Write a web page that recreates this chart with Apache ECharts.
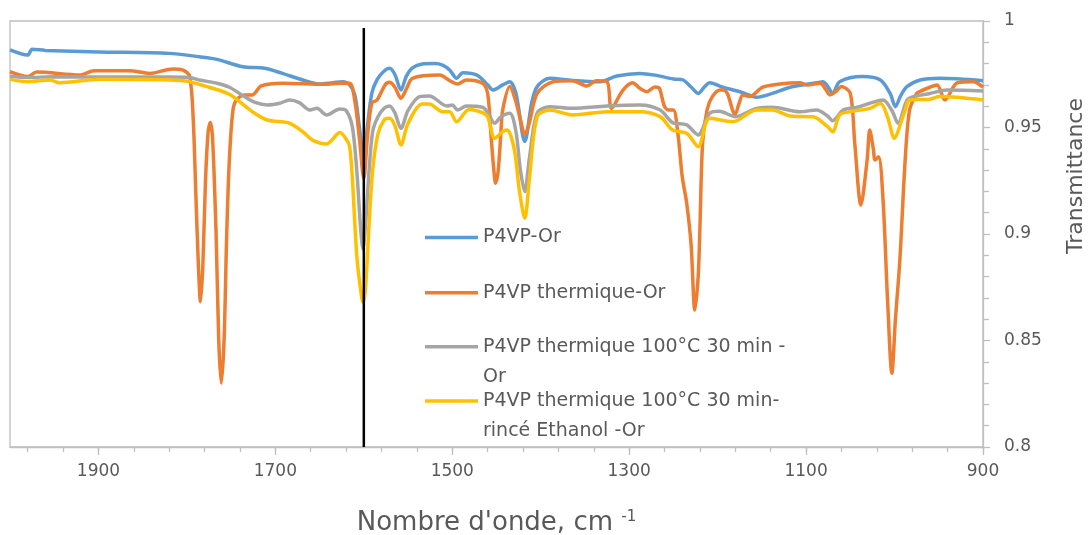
<!DOCTYPE html>
<html>
<head>
<meta charset="utf-8">
<script src="https://cdn.jsdelivr.net/npm/echarts@6/dist/echarts.min.js"></script>
<style>html,body{margin:0;padding:0;background:#fff}#c{width:1089px;height:535px}</style>
</head>
<body>
<div id="c"></div>
<script>
const seriesNames = ['P4VP-Or', 'P4VP thermique-Or', 'P4VP thermique 100°C 30 min -Or', 'P4VP thermique 100°C 30 min-rincé Ethanol -Or'];
const legendTexts = ['P4VP-Or', 'P4VP thermique-Or', 'P4VP thermique 100°C 30 min -\nOr', 'P4VP thermique 100°C 30 min-\nrincé Ethanol -Or'];
const xLabelValues = [900, 1100, 1300, 1500, 1700, 1900];
const xMinorTickValues = [900,940,980,1020,1060,1100,1140,1180,1220,1260,1300,1340,1380,1420,1460,1500,1540,1580,1620,1660,1700,1740,1780,1820,1860,1900,1940,1980];
const markerLine = [[1600, 0.8], [1600, 0.9967]];

const blueData = [[2000,0.9864],[1980,0.984],[1975,0.9867],[1960,0.9862],[1900,0.9855],[1820,0.9848],[1786,0.9832],[1766,0.982],[1737,0.9785],[1712,0.9778],[1692,0.9754],[1669,0.9723],[1650,0.9704],[1635,0.971],[1624,0.9715],[1616,0.970],[1610,0.965],[1605,0.950],[1600,0.935],[1596,0.950],[1591,0.966],[1585,0.9725],[1577,0.9765],[1571,0.9778],[1565,0.975],[1558,0.9676],[1552,0.974],[1545,0.978],[1534,0.9798],[1520,0.9800],[1511,0.9793],[1503,0.977],[1495,0.9731],[1488,0.9757],[1472,0.9746],[1460,0.970],[1454,0.9676],[1443,0.970],[1435,0.9715],[1428,0.966],[1418,0.9434],[1410,0.962],[1404,0.9692],[1390,0.9731],[1364,0.9721],[1333,0.9715],[1314,0.9742],[1288,0.9754],[1271,0.9746],[1250,0.9728],[1239,0.9723],[1230,0.969],[1222,0.966],[1215,0.969],[1209,0.971],[1194,0.9689],[1175,0.9668],[1156,0.9642],[1138,0.966],[1118,0.9689],[1088,0.971],[1081,0.9715],[1075,0.969],[1070,0.966],[1062,0.9715],[1036,0.9739],[1016,0.9723],[1005,0.966],[999,0.9598],[993,0.965],[986,0.9692],[971,0.9723],[949,0.9731],[900,0.972]];

const orangeData = [[2000,0.9762],[1980,0.9739],[1970,0.976],[1921,0.9746],[1905,0.9767],[1865,0.9767],[1842,0.9754],[1816,0.9775],[1805,0.977],[1797,0.974],[1793,0.955],[1790,0.92],[1787,0.885],[1784.6,0.8682],[1782,0.885],[1779,0.925],[1776,0.948],[1773.6,0.9523],[1771,0.945],[1767,0.90],[1764,0.85],[1761.2,0.8299],[1758,0.85],[1755,0.90],[1752,0.935],[1748,0.958],[1744,0.9629],[1735,0.9653],[1726,0.9653],[1716,0.9695],[1692,0.9708],[1644,0.9703],[1627,0.9708],[1616,0.9708],[1610,0.962],[1605,0.945],[1600,0.926],[1596,0.945],[1591,0.9615],[1585,0.9629],[1576,0.970],[1571,0.9712],[1565,0.969],[1558,0.9637],[1552,0.968],[1545,0.9731],[1514,0.9746],[1503,0.972],[1494,0.9704],[1484,0.9723],[1466,0.9708],[1460,0.966],[1456,0.945],[1453,0.93],[1451,0.9238],[1448,0.93],[1445,0.948],[1443,0.9582],[1435,0.9692],[1428,0.962],[1422,0.952],[1418,0.9465],[1413,0.952],[1404,0.966],[1386,0.9715],[1364,0.972],[1348,0.9695],[1337,0.972],[1325,0.9715],[1320,0.959],[1307,0.9676],[1296,0.971],[1288,0.9684],[1280,0.9668],[1271,0.969],[1266,0.9685],[1260,0.9598],[1255,0.9582],[1250,0.9582],[1245,0.9474],[1240,0.9269],[1235,0.9145],[1230,0.895],[1225.8,0.8643],[1222,0.88],[1220,0.9034],[1217,0.9427],[1212,0.9582],[1206,0.9645],[1197,0.9676],[1194,0.9676],[1189,0.966],[1183,0.958],[1180.5,0.9559],[1176,0.961],[1171.5,0.9653],[1164,0.9646],[1149,0.9689],[1130,0.9704],[1107,0.971],[1099,0.9699],[1084,0.9708],[1078,0.968],[1073,0.9653],[1066,0.967],[1060,0.9692],[1050,0.966],[1045,0.9427],[1038,0.9136],[1031,0.9347],[1028,0.9488],[1024,0.940],[1022,0.9347],[1018,0.9363],[1013,0.916],[1008,0.87],[1003,0.8346],[999,0.86],[994,0.8878],[988,0.9347],[983,0.9582],[975,0.966],[971,0.967],[960,0.9689],[952,0.970],[943,0.9629],[929,0.971],[911,0.9715],[900,0.9689]];

const grayData = [[2000,0.9742],[1980,0.9735],[1950,0.9738],[1900,0.9737],[1820,0.9737],[1797,0.9735],[1786,0.9723],[1766,0.9708],[1752,0.9689],[1735,0.9645],[1723,0.9618],[1709,0.9606],[1695,0.9614],[1684,0.9629],[1673,0.9617],[1661,0.9582],[1653,0.959],[1642,0.9559],[1627,0.9587],[1620,0.958],[1613,0.9504],[1608,0.93],[1604,0.905],[1601,0.893],[1598,0.905],[1594,0.93],[1590,0.948],[1584,0.955],[1577,0.959],[1571,0.9601],[1565,0.957],[1558,0.9496],[1550,0.958],[1537,0.9645],[1526,0.9648],[1506,0.9601],[1500,0.9606],[1494,0.9582],[1484,0.9601],[1466,0.9595],[1460,0.957],[1452,0.952],[1445,0.955],[1435,0.9567],[1428,0.948],[1423,0.93],[1418,0.9199],[1413,0.935],[1404,0.9567],[1390,0.9598],[1364,0.959],[1325,0.9601],[1288,0.9606],[1265,0.9582],[1251,0.9523],[1235,0.9512],[1222,0.9465],[1209,0.9567],[1198,0.9576],[1180,0.9551],[1156,0.959],[1138,0.9595],[1107,0.9574],[1088,0.9582],[1076,0.9555],[1070,0.9532],[1058,0.9582],[1042,0.9595],[1028,0.9614],[1013,0.9629],[1003,0.958],[996,0.952],[986,0.9629],[979,0.9645],[960,0.966],[941,0.9676],[900,0.9671]];

const yellowData = [[2000,0.9726],[1980,0.9715],[1955,0.9723],[1944,0.971],[1899,0.9726],[1820,0.9723],[1797,0.9715],[1775,0.9689],[1752,0.9656],[1726,0.9574],[1709,0.9535],[1684,0.952],[1669,0.948],[1658,0.9441],[1642,0.9423],[1627,0.9476],[1620,0.9446],[1616,0.941],[1613,0.9263],[1608,0.89],[1604,0.875],[1601,0.868],[1598,0.875],[1594,0.905],[1590,0.93],[1584,0.947],[1577,0.9535],[1571,0.9543],[1565,0.951],[1558,0.9418],[1550,0.952],[1534,0.961],[1526,0.961],[1511,0.9574],[1503,0.9574],[1495,0.9527],[1481,0.9585],[1466,0.957],[1460,0.955],[1452,0.9449],[1443,0.948],[1438,0.9488],[1430,0.94],[1424,0.92],[1418,0.9074],[1413,0.925],[1404,0.9551],[1390,0.9582],[1364,0.9559],[1325,0.9574],[1288,0.9574],[1265,0.9551],[1251,0.9488],[1235,0.9473],[1222,0.941],[1209,0.9543],[1183,0.9527],[1156,0.9582],[1138,0.9582],[1118,0.9554],[1092,0.955],[1076,0.9505],[1070,0.948],[1062,0.9559],[1051,0.9574],[1028,0.959],[1016,0.9614],[1008,0.955],[1000,0.9449],[993,0.952],[988,0.9582],[983,0.9629],[960,0.9633],[949,0.9645],[900,0.9629]];

const colors = ['#5B9BD5', '#ED7D31', '#A5A5A5', '#FFC000'];
const allData = [blueData, orangeData, grayData, yellowData];
const legendCenters = [237.5, 292.7, 346.7, 401];

const FONT = 'DejaVu Sans';
const TXT = '#595959';
const AX = '#BFBFBF';

const chart = echarts.init(document.getElementById('c'), null, {renderer: 'canvas'});

const series = allData.map((d, i) => ({
  name: seriesNames[i],
  type: 'line',
  data: d,
  smooth: 0.3,
  showSymbol: false,
  symbol: 'none',
  lineStyle: {color: colors[i], width: 3.5},
  itemStyle: {color: colors[i]},
  emphasis: {disabled: true},
  z: 2 + i
}));
series.push({
  name: 'marker',
  type: 'line',
  data: markerLine,
  showSymbol: false,
  symbol: 'none',
  lineStyle: {color: '#000', width: 2.5},
  silent: true,
  z: 10
});

const legends = seriesNames.map((n, i) => {
  const twoLine = legendTexts[i].indexOf('\n') >= 0;
  return {
    data: [n],
    left: 425,
    top: legendCenters[i] - (twoLine ? 45 : 15),
    padding: 0,
    itemWidth: 53,
    itemHeight: 14,
    icon: 'path://M0,0 L53,0 L53,3.5 L0,3.5 Z',
    formatter: () => (twoLine ? '\u00a0\n' : '') + legendTexts[i],
    textStyle: {fontFamily: FONT, fontSize: 19, color: TXT, lineHeight: 30},
    selectedMode: false
  };
});

const option = {
  animation: false,
  backgroundColor: '#fff',
  grid: {left: 10, right: 106, top: 21, bottom: 88, show: true, borderColor: AX, borderWidth: 1.3, containLabel: false, outerBoundsMode: 'none'},
  legend: legends,
  xAxis: [{
    type: 'value', inverse: true, min: 900, max: 2000,
    name: 'Nombre d\'onde, cm {sup|-1}',
    nameLocation: 'middle', nameGap: 63,
    nameTextStyle: {fontFamily: FONT, fontSize: 26, color: TXT, rich: {sup: {fontFamily: FONT, fontSize: 15, color: TXT, verticalAlign: 'top', padding: [0, 0, 12, 0]}}},
    axisLine: {show: true, lineStyle: {color: AX, width: 1.3}},
    axisTick: {show: true, customValues: xMinorTickValues, length: 5, lineStyle: {color: AX, width: 1.3}},
    axisLabel: {customValues: xLabelValues, formatter: v => String(v), fontFamily: FONT, fontSize: 17, color: TXT, margin: 16},
    splitLine: {show: false}
  }, {
    type: 'value', inverse: true, min: 900, max: 2000, position: 'bottom',
    axisLine: {show: false},
    axisTick: {show: true, customValues: xLabelValues, length: 8, lineStyle: {color: AX, width: 1.3}},
    axisLabel: {show: false},
    splitLine: {show: false}
  }],
  yAxis: {
    type: 'value', position: 'right', min: 0.8, max: 1, interval: 0.05,
    axisLine: {show: true, lineStyle: {color: AX, width: 1.3}},
    axisTick: {show: true, length: 7, lineStyle: {color: AX, width: 1.3}},
    minorTick: {show: true, splitNumber: 5, length: 6, lineStyle: {color: AX, width: 1.3}},
    axisLabel: {fontFamily: FONT, fontSize: 17, color: TXT, margin: 21},
    splitLine: {show: false},
    name: 'Transmittance', nameLocation: 'middle', nameRotate: 90, nameGap: 82,
    nameTextStyle: {fontFamily: FONT, fontSize: 22, color: TXT, padding: [0, 0, 0, 116]}
  },
  series: series
};
chart.setOption(option);
</script>
</body>
</html>
